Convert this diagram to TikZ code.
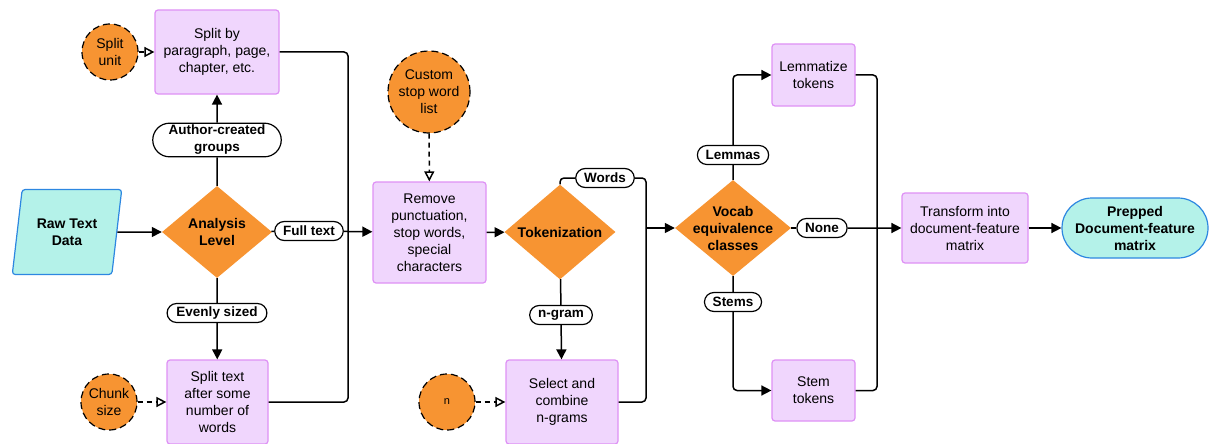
\documentclass[tikz,border=0pt]{standalone}
\usepackage{fontspec}
\setmainfont{Liberation Sans}
\usetikzlibrary{arrows.meta, shapes.geometric, shapes.misc}
\definecolor{procfill}{RGB}{240,214,253}
\definecolor{procline}{RGB}{222,145,245}
\definecolor{choicefill}{RGB}{247,148,50}
\definecolor{endfill}{RGB}{180,242,233}
\definecolor{endline}{RGB}{45,135,225}

\begin{document}
\begin{tikzpicture}[x = 1pt, y = -1pt,
    font = \fontsize{14}{17}\selectfont,
    proc/.style = {draw = procline, fill = procfill, line width = 1.2pt,
      rounded corners = 3pt, align = center, inner sep = 0},
    choice/.style = {diamond, fill = choicefill, align = center, inner sep = 0,
      font = \fontsize{14}{17}\selectfont\bfseries},
    param/.style = {circle, draw, fill = choicefill, line width = 1.2pt,
      dash pattern = on 7pt off 4pt, align = center, inner sep = 0,
      minimum size = 56pt},
    pill/.style = {rounded rectangle, draw, fill = white, line width = 1.2pt,
      align = center, inner xsep = 7pt, inner ysep = 2pt, minimum height = 19pt,
      font = \fontsize{13.5}{17}\selectfont\bfseries},
    terminal/.style = {draw = endline, fill = endfill, line width = 1.2pt,
      align = center, font = \fontsize{14}{17}\selectfont\bfseries},
    wire/.style = {line width = 1.5pt, rounded corners = 4pt},
    flow/.style = {wire, -{Triangle[length = 10pt, width = 10pt]}},
    dep/.style = {wire, dash pattern = on 5pt off 4pt,
      -{Triangle[open, length = 10pt, width = 10pt]}}]
    \useasboundingbox (0,0) rectangle (1210,444);

    \node [terminal, trapezium, trapezium left angle = 76,
      trapezium right angle = 104, trapezium stretches = true,
      minimum width = 110pt, minimum height = 85pt, rounded corners = 3pt,
      inner sep = 0] (raw) at (67,232) {Raw Text\\Data};
    \node [choice, minimum width = 110pt, minimum height = 92pt]
      (analysis) at (217,232) {Analysis\\Level};
    \node [proc, minimum width = 124pt, minimum height = 84pt]
      (splitby) at (217,52) {Split by\\paragraph, page,\\chapter, etc.};
    \node [param] (unit) at (110,52) {Split\\unit};
    \node [proc, minimum width = 101pt, minimum height = 84pt]
      (splittext) at (217.5,402) {Split text\\after some\\number of\\words};
    \node [param] (chunk) at (109,402) {Chunk\\size};
    \node [pill] (author) at (217,140) {Author-created\\groups};
    \node [pill] (even) at (217,313) {Evenly sized};
    \node [pill] (full) at (309,231) {Full text};
    \coordinate (joinA) at (348,232);

    \node [proc, minimum width = 113pt, minimum height = 101pt]
      (remove) at (429.5,232.5)
      {Remove\\punctuation,\\stop words,\\special\\characters};
    \node [param, minimum size = 82pt] (custom) at (429,92)
      {Custom\\stop word\\list};
    \node [choice, minimum width = 111pt, minimum height = 90pt]
      (tok) at (560,232) {Tokenization};
    \node [pill] (words) at (605,178) {Words};
    \node [pill] (ngram) at (561,315) {n-gram};
    \node [proc, minimum width = 112pt, minimum height = 84pt]
      (select) at (562,402) {Select and\\combine\\n-grams};
    \node [param, font = \fontsize{11}{13}\selectfont] (n) at (447,402) {n};
    \coordinate (joinB) at (646,228);

    \node [choice, minimum width = 116pt, minimum height = 96pt,
      aspect = 1.2, inner sep = -6pt]
      (vocab) at (733,228) {Vocab\\equivalence\\classes};
    \node [pill] (lemmas) at (733,155) {Lemmas};
    \node [pill] (stems) at (733,302) {Stems};
    \node [pill] (none) at (822,228) {None};
    \node [proc, minimum width = 83pt, minimum height = 62pt]
      (lemma) at (813.5,75) {Lemmatize\\tokens};
    \node [proc, minimum width = 83pt, minimum height = 61pt]
      (stem) at (813.5,390.5) {Stem\\tokens};
    \coordinate (joinC) at (877,228);
    \node [proc, minimum width = 126pt, minimum height = 70pt]
      (transform) at (965,228) {Transform into\\document-feature\\matrix};
    \node [terminal, rounded rectangle, minimum width = 146pt,
      minimum height = 60pt, inner sep = 0] (prepped) at (1135,228)
      {Prepped\\Document-feature\\matrix};

    \draw [flow] (raw) -- (analysis);
    \draw [wire] (analysis) -- (author);
    \draw [flow] (author) -- (splitby);
    \draw [dep] (unit) -- (splitby);
    \draw [wire] (analysis) -- (even);
    \draw [flow] (even) -- (splittext);
    \draw [dep] (chunk) -- (splittext);
    \draw [wire] (analysis) -- (full);
    \draw [flow] (full) -- (remove);
    \draw [wire] (splitby) -| (joinA);
    \draw [wire] (splittext) -| (joinA);
    \draw [dep] (custom) -- (remove);
    \draw [flow] (remove) -- (tok);
    \draw [wire] (tok.north) |- (words.west);
    \draw [wire] (words.east) -| (joinB);
    \draw [wire] (tok) -- (ngram);
    \draw [flow] (ngram) -- (select);
    \draw [dep] (n) -- (select);
    \draw [wire] (select) -| (joinB);
    \draw [flow] (joinB) -- (vocab);
    \draw [wire] (vocab) -- (lemmas);
    \draw [flow] (lemmas) |- (lemma);
    \draw [wire] (vocab) -- (stems);
    \draw [flow] (stems) |- (stem);
    \draw [wire] (vocab) -- (none);
    \draw [flow] (none) -- (transform);
    \draw [wire] (lemma) -| (joinC);
    \draw [wire] (stem) -| (joinC);
    \draw [flow] (transform) -- (prepped);
\end{tikzpicture}
\end{document}
